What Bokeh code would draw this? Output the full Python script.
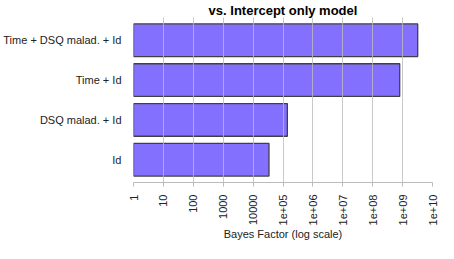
import math
from bokeh.plotting import figure
from bokeh.models import FixedTicker, Range1d, ColumnDataSource
from bokeh.embed import file_html
from bokeh.resources import INLINE

models = ["Time + DSQ malad. + Id", "Time + Id", "DSQ malad. + Id", "Id"]
bayes_factors = [3.2e9, 8.0e8, 1.4e5, 3.4e4]
tick_values = [1, 10, 100, 1000, 10000, 1e5, 1e6, 1e7, 1e8, 1e9, 1e10]
tick_labels = ["1", "10", "100", "1000", "10000", "1e+05", "1e+06", "1e+07", "1e+08", "1e+09", "1e+10"]

ypos = [4, 3, 2, 1]
src = ColumnDataSource(dict(y=ypos, right=bayes_factors, left=[1] * len(models)))

p = figure(width=438, height=243, x_axis_type="log", output_backend="svg",
           toolbar_location=None, x_range=Range1d(1, 1e10), y_range=Range1d(0.43, 4.57),
           min_border_left=125, min_border_right=6, min_border_top=0, min_border_bottom=0)

p.hbar(y="y", left="left", right="right", height=0.82, source=src,
       fill_color="#8470FF", line_color="#404040", line_width=1.3)

p.title.text = "vs. Intercept only model"
p.title.align = "center"
p.title.text_font = "Liberation Sans"
p.title.text_font_size = "13px"
p.title.text_font_style = "bold"
p.title.text_color = "#000000"
p.title.standoff = 0
p.title.offset = 0

p.outline_line_color = None
p.background_fill_color = "white"
p.border_fill_color = "white"

xa = p.xaxis[0]
xa.ticker = FixedTicker(ticks=tick_values)
xa.major_label_overrides = {v: l for v, l in zip(tick_values, tick_labels)}
xa.major_label_orientation = math.pi / 2
xa.major_label_text_font = "Liberation Sans"
xa.major_label_text_font_size = "11px"
xa.major_label_text_color = "#222222"
xa.major_label_standoff = 8
xa.axis_line_color = "#BBBBBB"
xa.major_tick_line_color = "#BBBBBB"
xa.major_tick_out = 4
xa.major_tick_in = 0
xa.minor_tick_line_color = None
xa.axis_label = "Bayes Factor (log scale)"
xa.axis_label_text_font = "Liberation Sans"
xa.axis_label_text_font_size = "11px"
xa.axis_label_text_font_style = "normal"
xa.axis_label_text_color = "#222222"
xa.axis_label_standoff = 0

ya = p.yaxis[0]
ya.ticker = FixedTicker(ticks=ypos)
ya.major_label_overrides = {y: m for y, m in zip(ypos, models)}
ya.major_label_text_font = "Liberation Sans"
ya.major_label_text_font_size = "11px"
ya.major_label_text_color = "#222222"
ya.major_label_standoff = 6
ya.axis_line_color = None
ya.major_tick_line_color = None
ya.minor_tick_line_color = None

p.ygrid.grid_line_color = None
p.xgrid.ticker = FixedTicker(ticks=tick_values)
p.xgrid.grid_line_color = "#BBBBBB"
p.xgrid.grid_line_alpha = 0.8
p.xgrid.level = "overlay"

open("out.html", "w").write(file_html(p, INLINE))
